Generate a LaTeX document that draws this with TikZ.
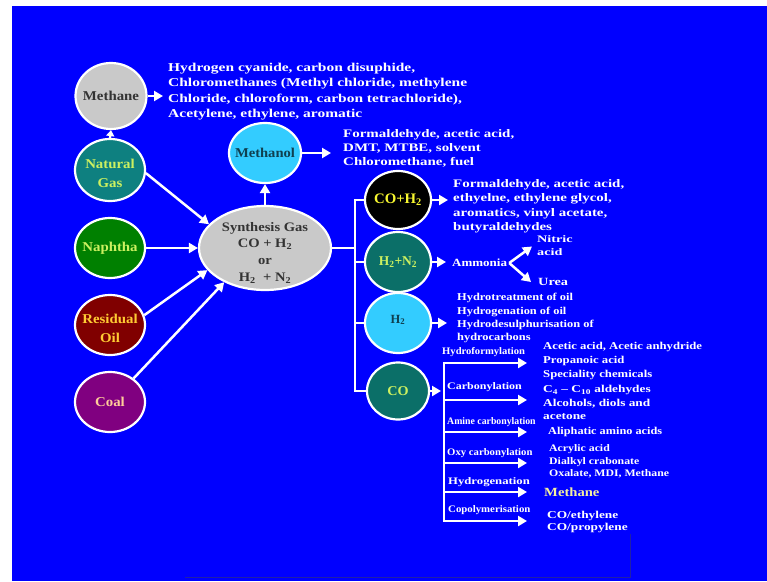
\documentclass[tikz,border=0pt]{standalone}
\usepackage{graphicx}
\usepackage{fontspec}
\setmainfont{Liberation Serif}
\usetikzlibrary{arrows.meta,shapes.geometric}

\definecolor{bgblue}{HTML}{0000FF}
\definecolor{softgray}{HTML}{C9C9C9}
\definecolor{tealgas}{HTML}{0E8080}
\definecolor{naphgreen}{HTML}{008000}
\definecolor{oilred}{HTML}{800000}
\definecolor{coalpurple}{HTML}{800080}
\definecolor{skycyan}{HTML}{33CCFF}
\definecolor{deepteal}{HTML}{0B6F68}
\definecolor{darktxt}{HTML}{333333}
\definecolor{tealtxt}{HTML}{0F4050}
\definecolor{limetxt}{HTML}{CCF060}
\definecolor{goldtxt}{HTML}{FFCC33}
\definecolor{peachtxt}{HTML}{FFCC99}
\definecolor{yellowtxt}{HTML}{F8F830}
\definecolor{creamtxt}{HTML}{F4EFA0}
\definecolor{edgeline}{HTML}{2020A8}

% horizontal stretch of a piece of text
\newcommand\hstretch[2]{\scalebox{#1}[1]{#2}}
% stacked lines, left aligned / centred
\newcommand\leftlines[1]{\begin{tabular}{@{}l@{}}#1\end{tabular}}
\newcommand\midlines[1]{\begin{tabular}{@{}c@{}}#1\end{tabular}}
\newcommand\subs[1]{\textsubscript{#1}}
\newcommand\fsz[2]{\fontsize{#1}{#2}\selectfont}

\begin{document}
\begin{tikzpicture}[x=1pt,y=-1pt,
  bubble/.style={ellipse, draw=white, line width=2.2pt, inner sep=0pt},
  btext/.style={inner sep=0pt, font=\bfseries\fsz{13.5}{19}},
  desc/.style={anchor=west, inner sep=0pt, text=white},
  arr/.style={draw=white, line width=2.5pt, -{Triangle[length=9pt,width=10pt]}},
  smallarr/.style={draw=white, line width=2.2pt, -{Triangle[length=6pt,width=8pt]}},
  link/.style={draw=white, line width=2.5pt},
  stepname/.style={anchor=west, inner sep=0pt, text=white, font=\bfseries\fsz{10}{12}}]

\useasboundingbox (0,0) rectangle (767,581);
\fill[white] (0,0) rectangle (767,581);
\fill[bgblue] (12,6) rectangle (767,581);
\draw[edgeline, line width=0.8pt] (185,577) -- (630,577) -- (630,534);

% ---- feedstocks and first products ----
\node[bubble, fill=softgray, minimum width=71pt, minimum height=66pt] (methane) at (111,96) {};
\node[btext, text=darktxt] (methane-t) at (methane) {\hstretch{1.1}{Methane}};

\node[bubble, fill=tealgas, minimum width=70pt, minimum height=62pt] (natgas) at (110,170) {};
\node[btext, text=limetxt] (natgas-t) at (110,174) {\hstretch{1.1}{\midlines{Natural\\Gas}}};

\node[bubble, fill=naphgreen, minimum width=70pt, minimum height=60pt] (naphtha) at (110,248) {};
\node[btext, text=limetxt] (naphtha-t) at (naphtha) {\hstretch{1.1}{Naphtha}};

\node[bubble, fill=oilred, minimum width=70pt, minimum height=60pt] (resoil) at (110,325) {};
\node[btext, text=goldtxt] (resoil-t) at (110,329) {\hstretch{1.1}{\midlines{Residual\\Oil}}};

\node[bubble, fill=coalpurple, minimum width=70pt, minimum height=60pt] (coal) at (110,402) {};
\node[btext, text=peachtxt] (coal-t) at (coal) {\hstretch{1.1}{Coal}};

\node[bubble, fill=softgray, minimum width=132pt, minimum height=84pt] (syngas) at (265,248) {};
\node[inner sep=0pt, text=darktxt, font=\bfseries\fsz{13}{16.7}] (syngas-t) at (265,253)
  {\hstretch{1.12}{\midlines{Synthesis Gas\\CO + H\subs{2}\\or\\H\subs{2} \ + N\subs{2}}}};

\node[bubble, fill=skycyan, minimum width=72pt, minimum height=60pt] (methanol) at (265,153) {};
\node[btext, text=tealtxt] (methanol-t) at (methanol) {\hstretch{1.08}{Methanol}};

% ---- gas streams ----
\node[bubble, fill=black, minimum width=66pt, minimum height=58pt] (coh2) at (398,200) {};
\node[btext, text=yellowtxt, font=\bfseries\fsz{14.5}{17}] (coh2-t) at (coh2) {\hstretch{1.02}{CO+H\subs{2}}};

\node[bubble, fill=deepteal, minimum width=66pt, minimum height=60pt] (h2n2) at (398,262) {};
\node[btext, text=limetxt, font=\bfseries\fsz{13.5}{16}] (h2n2-t) at (h2n2) {\hstretch{1.0}{H\subs{2}+N\subs{2}}};

\node[bubble, fill=skycyan, minimum width=66pt, minimum height=60pt] (h2) at (398,323) {};
\node[btext, text=tealtxt, font=\bfseries\fsz{12.5}{15}] (h2-t) at (398,320) {H\subs{2}};

\node[bubble, fill=deepteal, minimum width=62pt, minimum height=57pt] (co) at (398,391) {};
\node[btext, text=limetxt] (co-t) at (co) {\hstretch{1.05}{CO}};

% ---- product lists ----
\node[desc, font=\bfseries\fsz{12}{15.5}] (methane-uses) at (168,91.25)
  {\hstretch{1.29}{\leftlines{Hydrogen cyanide, carbon disuphide,\\Chloromethanes (Methyl chloride, methylene\\Chloride, chloroform, carbon tetrachloride),\\Acetylene, ethylene, aromatic}}};

\node[desc, font=\bfseries\fsz{11.5}{14}] (methanol-uses) at (343,149)
  {\hstretch{1.3}{\leftlines{Formaldehyde, acetic acid,\\DMT, MTBE, solvent\\Chloromethane, fuel}}};

\node[desc, font=\bfseries\fsz{11.5}{14.5}] (coh2-uses) at (453,206)
  {\hstretch{1.3}{\leftlines{Formaldehyde, acetic acid,\\ethyelne, ethylene glycol,\\aromatics, vinyl acetate,\\butyraldehydes}}};

\node[desc, inner xsep=2pt, font=\bfseries\fsz{11}{13}] (ammonia) at (450,263) {\hstretch{1.18}{Ammonia}};
\node[desc, inner xsep=5pt, font=\bfseries\fsz{10}{13}] (nitric) at (532,246.5) {\hstretch{1.42}{\leftlines{Nitric\\acid}}};
\node[desc, inner xsep=7pt, font=\bfseries\fsz{11}{13}] (urea) at (531,282) {\hstretch{1.3}{Urea}};

\node[desc, font=\bfseries\fsz{10.5}{13.3}] (h2-uses) at (457,318)
  {\hstretch{1.18}{\leftlines{Hydrotreatment of oil\\Hydrogenation of oil\\Hydrodesulphurisation of\\hydrocarbons}}};

% ---- carbon monoxide routes ----
\node[stepname] (hydroform) at (442,352) {\hstretch{1.06}{Hydroformylation}};
\node[stepname] (carbonyl) at (447,387) {\hstretch{1.2}{Carbonylation}};
\node[stepname] (aminecarb) at (447,422) {\hstretch{0.98}{Amine carbonylation}};
\node[stepname] (oxycarb) at (447,453) {\hstretch{1.07}{Oxy carbonylation}};
\node[stepname] (hydrogen) at (448,482) {\hstretch{1.27}{Hydrogenation}};
\node[stepname] (copoly) at (448,510) {\hstretch{1.08}{Copolymerisation}};

\node[desc, font=\bfseries\fsz{10.5}{14}] (acids) at (543,361)
  {\hstretch{1.21}{\leftlines{Acetic acid, Acetic anhydride\\Propanoic acid\\Speciality chemicals}}};
\node[desc, font=\bfseries\fsz{10.5}{13.5}] (aldehydes) at (543,403.5)
  {\hstretch{1.27}{\leftlines{C\subs{4} -- C\subs{10} aldehydes\\Alcohols, diols and\\acetone}}};
\node[desc, font=\bfseries\fsz{10.5}{13}] (amino) at (548,432) {\hstretch{1.17}{Aliphatic amino acids}};
\node[desc, font=\bfseries\fsz{10}{12.5}] (acrylic) at (549,461.7)
  {\hstretch{1.18}{\leftlines{Acrylic acid\\Dialkyl crabonate\\Oxalate, MDI, Methane}}};
\node[desc, text=creamtxt, font=\bfseries\fsz{12.5}{14}] (methane-out) at (544,492) {\hstretch{1.17}{Methane}};
\node[desc, font=\bfseries\fsz{10.5}{12.5}] (copolymers) at (547,522)
  {\hstretch{1.27}{\leftlines{CO/ethylene\\CO/propylene}}};

% ---- arrow end points ----
\coordinate (methane-tip) at (163,96);
\coordinate (methanol-tip) at (331,153);
\coordinate (coh2-tip) at (448,200);
\coordinate (h2n2-tip) at (446,262);
\coordinate (h2-tip) at (447,323);
\coordinate (co-tip) at (441,391);
\coordinate (hub) at (355,248);
\foreach \i/\y in {1/363,2/400,3/432,4/463,5/492,6/521}{
  \coordinate (cb\i) at (444,\y);
  \coordinate (ct\i) at (527,\y);
}

% ---- connectors ----
\draw[smallarr] (natgas.north) -- (methane.south);
\draw[arr] (methane.east) -- (methane-tip);
\draw[arr] (natgas.-5) -- (syngas.157);
\draw[arr] (naphtha.east) -- (syngas.west);
\draw[arr] (resoil.16) -- (syngas.201);
\draw[arr] (coal.45) -- (syngas.220);
\draw[arr] (syngas.north) -- (methanol.south);
\draw[arr] (methanol.east) -- (methanol-tip);

\draw[link] (syngas.east) -- (hub);
\draw[link] (coh2.west) -- (hub |- coh2) -- (hub |- co) -- (co.west);
\draw[link] (hub |- h2n2) -- (h2n2.west);
\draw[link] (hub |- h2) -- (h2.west);

\draw[arr] (coh2.east) -- (coh2-tip);
\draw[arr] (h2n2.east) -- (h2n2-tip);
\draw[arr] (h2.east) -- (h2-tip);
\draw[arr] (co.east) -- (co-tip);

\draw[arr] (ammonia.east) -- (nitric.west);
\draw[arr] (ammonia.east) -- (urea.west);

\draw[link, line cap=rect] (cb1) -- (cb6);
\foreach \i in {1,...,6}{
  \draw[arr] (cb\i) -- (ct\i);
}
\end{tikzpicture}
\end{document}
